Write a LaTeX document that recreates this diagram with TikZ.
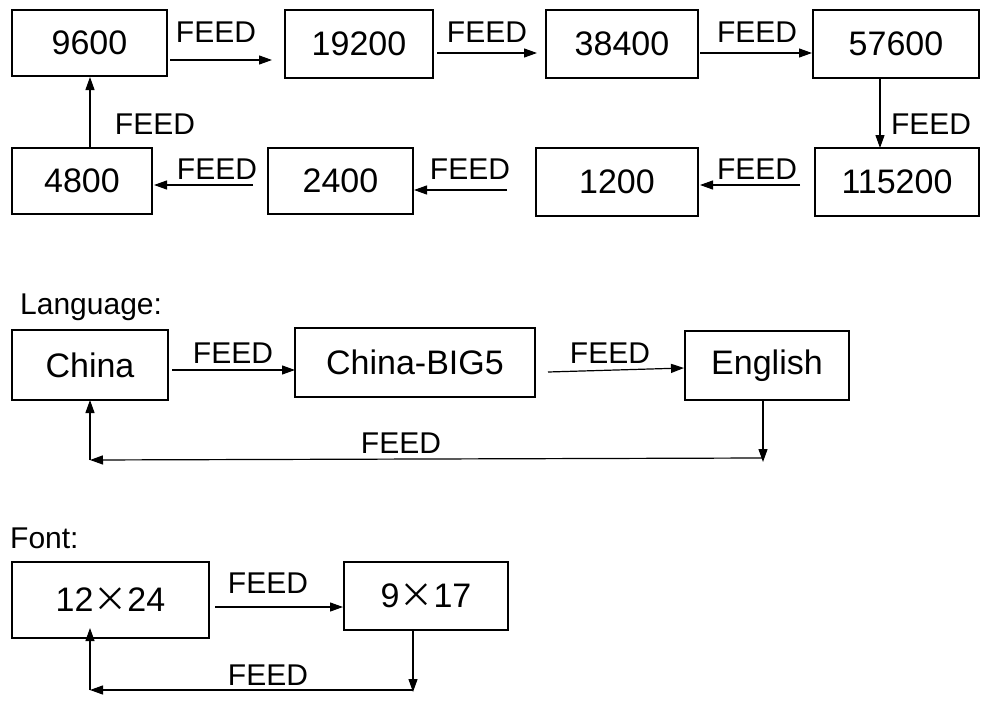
\documentclass[tikz,border=0pt]{standalone}
\usepackage{fontspec}
\setmainfont{Liberation Sans}
\newfontfamily\cjk{Noto Sans CJK SC}
\usetikzlibrary{arrows.meta}
\begin{document}
\begin{tikzpicture}[x=1pt,y=-1pt,
  bx/.style={draw,line width=1.2pt,inner sep=0pt,font=\fontsize{34}{34}\selectfont},
  ar/.style={line width=1.2pt,-{Triangle[length=13pt,width=9pt]}},
  lb/.style={font=\fontsize{30}{30}\selectfont,inner sep=0pt}]
\useasboundingbox (0,0) rectangle (997,720);
\node[bx,minimum width=155,minimum height=66] (a) at (89.5,43) {9600};
\node[bx,minimum width=148,minimum height=68] (b) at (359,44) {19200};
\node[bx,minimum width=152,minimum height=68] (c) at (622,44) {38400};
\node[bx,minimum width=166,minimum height=68] (d) at (896,44) {57600};
\node[bx,minimum width=140,minimum height=66] (h) at (82,181) {4800};
\node[bx,minimum width=145,minimum height=66] (g) at (340.5,181) {2400};
\node[bx,minimum width=162,minimum height=68] (f) at (617,182) {1200};
\node[bx,minimum width=164,minimum height=68] (e) at (897,182) {115200};
\draw[ar] (170,60) -- (272,60); \node[lb] at (216,32) {FEED};
\draw[ar] (437,53) -- (537,53); \node[lb] at (487,32) {FEED};
\draw[ar] (700,53) -- (812,53); \node[lb] at (757,32) {FEED};
\draw[ar] (880,78) -- (880,148); \node[lb] at (931,124) {FEED};
\draw[ar] (800,185) -- (700,185); \node[lb] at (757,169) {FEED};
\draw[ar] (507,190) -- (414,190); \node[lb] at (470,169) {FEED};
\draw[ar] (253,185) -- (154,185); \node[lb] at (217,169) {FEED};
\draw[ar] (90,147) -- (90,77); \node[lb] at (155,124) {FEED};

\node[lb,anchor=west] (lang) at (20,307) {Language:};
\node[bx,minimum width=156,minimum height=70] (ch) at (90,365) {China};
\node[bx,minimum width=240,minimum height=69] (big) at (415,362.5) {China-BIG5};
\node[bx,minimum width=164,minimum height=69] (en) at (767,365.5) {English};
\draw[ar] (172,370) -- (295,370); \node[lb] at (233,353) {FEED};
\draw[ar] (548,372) -- (684,368); \node[lb] at (610,353) {FEED};
\draw[ar] (763,400) -- (763,462);
\draw[ar] (763,458) -- (90,460);
\draw[ar] (90,460) -- (90,400);
\node[lb] at (401,443) {FEED};

\node[lb,anchor=west] (font) at (10,538) {Font:};
\node[bx,minimum width=197,minimum height=76] (f1) at (110.5,600) {12{\cjk ×}24};
\node[bx,minimum width=164,minimum height=68] (f2) at (426,596) {9{\cjk ×}17};
\draw[ar] (215,607) -- (343,607); \node[lb] at (268,583) {FEED};
\draw[ar] (413,630) -- (413,692);
\draw[ar] (413,690) -- (90,690);
\draw[ar] (90,690) -- (90,628);
\node[lb] at (268,675) {FEED};
\end{tikzpicture}
\end{document}
